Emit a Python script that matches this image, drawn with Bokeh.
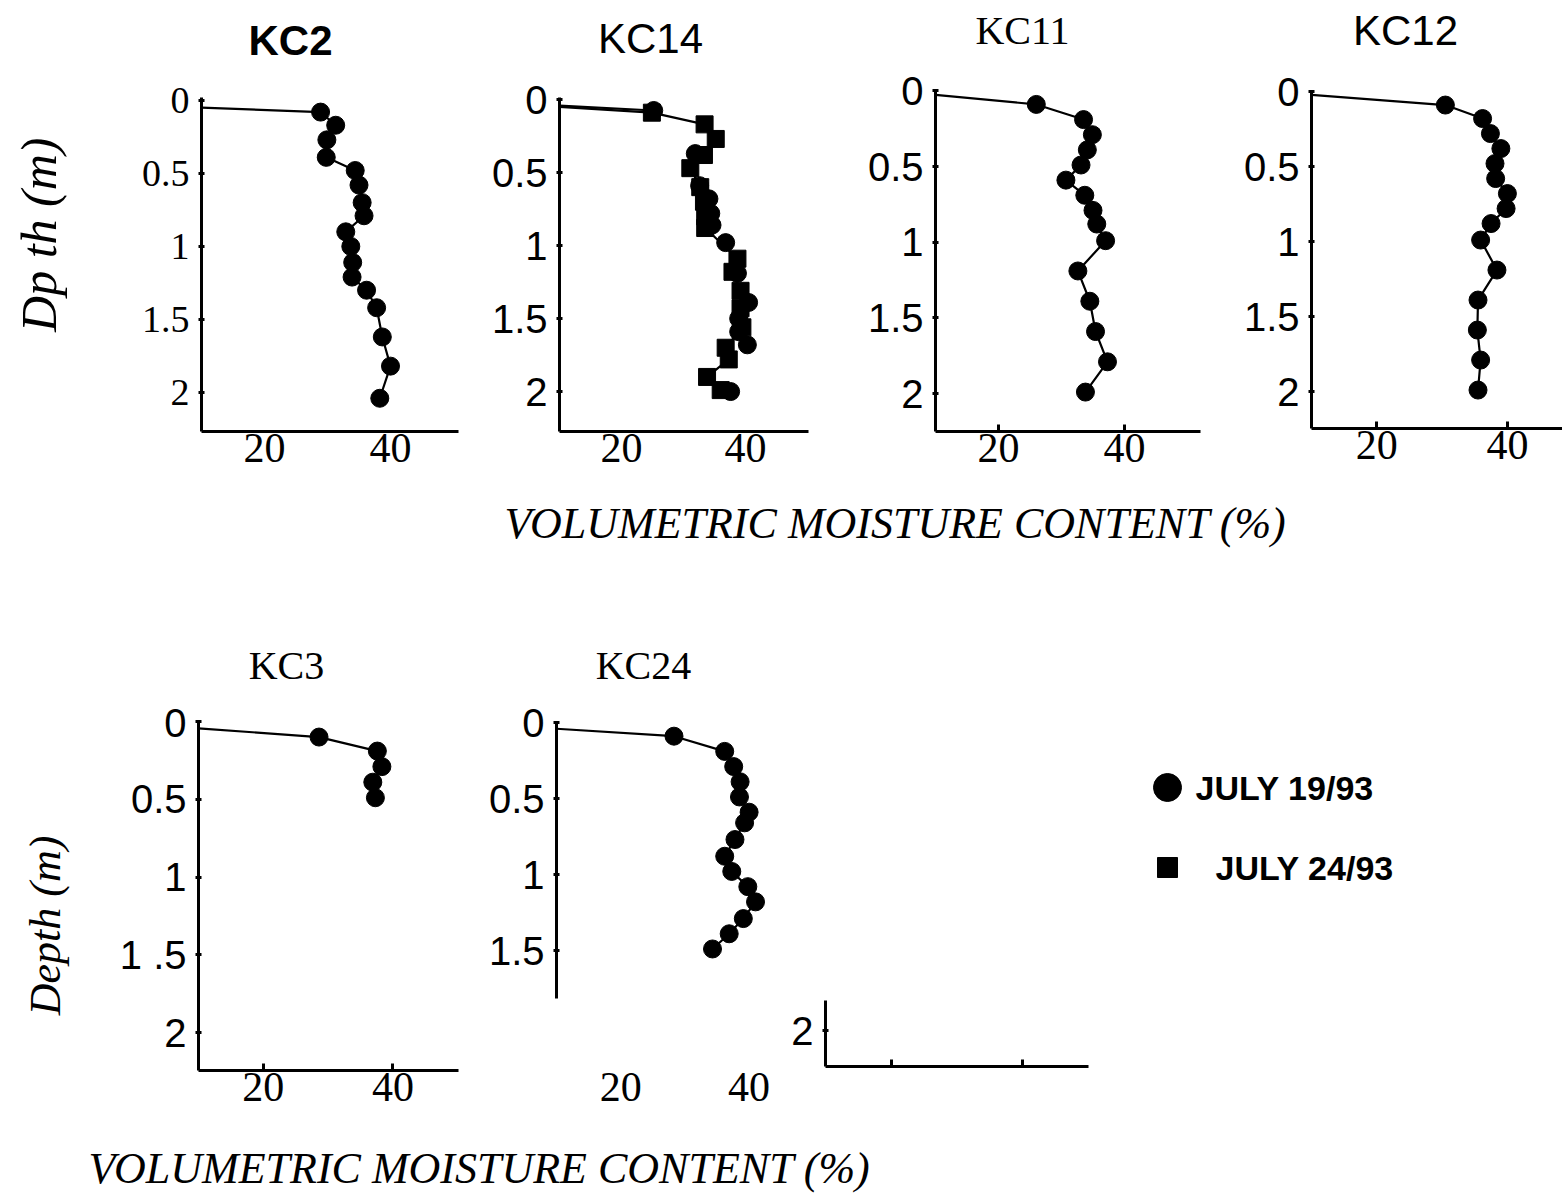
import math

from bokeh.core.properties import value
from bokeh.embed import file_html
from bokeh.layouts import column, row
from bokeh.models import FixedTicker, Label, Range1d, Spacer
from bokeh.plotting import figure
from bokeh.resources import INLINE

SANS = "Liberation Sans"
SERIF = "Liberation Serif"
INK = "black"

X_MIN = 10  # moisture axes start at 10 %

# ---------------------------------------------------------------------------
# Volumetric moisture content (%) against depth (m)
# ---------------------------------------------------------------------------
kc2_depth = [0.08, 0.17, 0.27, 0.39, 0.48, 0.58, 0.70, 0.79, 0.90, 1.00, 1.11,
             1.21, 1.30, 1.42, 1.62, 1.82, 2.04]
kc2_jul19 = [28.9, 31.3, 29.9, 29.8, 34.4, 35.0, 35.5, 35.8, 32.9, 33.7, 34.0,
             33.9, 36.2, 37.8, 38.7, 40.0, 38.3]
kc2_surface = 0.05

kc14_depth_jul19 = [0.075, 0.37, 0.59, 0.68, 0.78, 0.86, 0.98, 1.19, 1.39, 1.50,
                    1.59, 1.68, 2.00]
kc14_jul19 = [25.2, 31.9, 32.6, 34.1, 34.4, 34.6, 36.8, 38.7, 40.5, 38.9,
              38.9, 40.3, 37.6]
kc14_depth_jul24 = [0.09, 0.17, 0.27, 0.38, 0.47, 0.60, 0.70, 0.80, 0.88, 1.09,
                    1.18, 1.31, 1.43, 1.56, 1.70, 1.78, 1.90, 1.99]
kc14_jul24 = [24.9, 33.4, 35.2, 33.3, 31.1, 32.7, 33.3, 33.5, 33.5, 38.7,
              37.9, 39.2, 39.2, 39.5, 36.8, 37.3, 33.8, 36.0]
kc14_surface = [0.042, 0.05]

kc11_depth = [0.09, 0.19, 0.29, 0.39, 0.49, 0.59, 0.69, 0.79, 0.88, 0.99, 1.19,
              1.39, 1.59, 1.79, 1.99]
kc11_jul19 = [26.0, 33.5, 34.9, 34.1, 33.1, 30.7, 33.7, 35.0, 35.6, 37.0, 32.6,
              34.5, 35.4, 37.3, 33.8]
kc11_surface = 0.027

kc12_depth = [0.09, 0.18, 0.28, 0.38, 0.48, 0.58, 0.68, 0.78, 0.88, 0.99, 1.19,
              1.39, 1.59, 1.79, 1.99]
kc12_jul19 = [30.5, 36.2, 37.4, 39.0, 38.1, 38.2, 40.0, 39.8, 37.5, 35.9, 38.4,
              35.5, 35.4, 35.9, 35.5]
kc12_surface = 0.022

kc3_depth = [0.10, 0.19, 0.29, 0.39, 0.49]
kc3_jul19 = [28.6, 37.6, 38.3, 36.9, 37.3]
kc3_surface = 0.044

kc24_depth = [0.09, 0.19, 0.29, 0.39, 0.49, 0.59, 0.66, 0.77, 0.88, 0.98, 1.08,
              1.18, 1.29, 1.39, 1.49]
kc24_jul19 = [28.3, 36.2, 37.6, 38.6, 38.5, 40.0, 39.3, 37.8, 36.2, 37.3, 39.8,
              41.0, 39.1, 36.9, 34.3]
kc24_surface = 0.041

depth_ticks = [0, 0.5, 1, 1.5, 2]
moisture_ticks = [20, 40]

legend_labels = ["JULY 19/93", "JULY 24/93"]
legend_markers = ["circle", "square"]

x_title = "VOLUMETRIC MOISTURE CONTENT (%)"


# ---------------------------------------------------------------------------
# Building blocks
# ---------------------------------------------------------------------------
def bare(p):
    p.xgrid.visible = False
    p.ygrid.visible = False
    p.outline_line_color = None
    p.background_fill_color = "white"
    p.border_fill_color = "white"
    return p


def panel(frame, outer, px_per_pct, px_per_m, depth_top):
    """Figure whose plotting frame and outer box are given in page pixels."""
    left, right, top, bottom = frame
    ox0, ox1, oy0, oy1 = outer
    p = figure(
        title=None, frame_align=False,
        frame_width=right - left, frame_height=bottom - top,
        min_border_left=left - ox0, min_border_right=ox1 - right,
        min_border_top=top - oy0, min_border_bottom=oy1 - bottom,
        x_range=Range1d(X_MIN, X_MIN + (right - left) / px_per_pct),
        y_range=Range1d(depth_top + (bottom - top) / px_per_m, depth_top),
        output_backend="svg", toolbar_location=None,
    )
    return bare(p)


def strip(x0, y0, x1, y1):
    """Blank area (page pixels) whose data units equal pixels."""
    w, h = x1 - x0, y1 - y0
    p = figure(title=None, frame_align=False, width=w, height=h, min_border=0,
               x_range=Range1d(x0, x1), y_range=Range1d(y1, y0),
               x_axis_type=None, y_axis_type=None,
               output_backend="svg", toolbar_location=None)
    return bare(p)


def caption(p, text, cx, cy, font=SERIF, size="44px", style="italic", angle=0.0):
    p.add_layout(Label(x=cx, y=cy, text=text, angle=angle,
                       text_align="center", text_baseline="middle",
                       text_font=font, text_font_size=size,
                       text_font_style=style, text_color=INK))


def style_depth_axis(p, ticks, font, labels=None):
    ya = p.yaxis[0]
    ya.ticker = FixedTicker(ticks=ticks)
    if labels:
        ya.major_label_overrides = dict(zip(ticks, labels))
    ya.axis_line_width = 3
    ya.axis_line_color = INK
    ya.major_tick_in = 3
    ya.major_tick_out = 3
    ya.major_tick_line_width = 3
    ya.major_tick_line_color = INK
    ya.minor_tick_line_color = None
    ya.major_label_text_font = font
    ya.major_label_text_font_size = "40px" if font == SANS else "38px"
    ya.major_label_text_color = INK
    ya.major_label_standoff = 9


def style_moisture_axis(p, ticks_in=True, line=True, labels=True, standoff=2):
    xa = p.xaxis[0]
    xa.ticker = FixedTicker(ticks=moisture_ticks)
    xa.axis_line_width = 3
    xa.axis_line_color = INK if line else None
    xa.major_tick_in = 7 if ticks_in else 0
    xa.major_tick_out = 0
    xa.major_tick_line_width = 3
    xa.major_tick_line_color = INK if ticks_in else None
    xa.minor_tick_line_color = None
    xa.major_label_text_font = SERIF
    xa.major_label_text_font_size = "42px"
    xa.major_label_text_color = INK
    xa.major_label_standoff = standoff
    if not labels:
        xa.major_label_overrides = {t: "" for t in moisture_ticks}


def profile(p, moisture, depth, surface, marker="circle", size=18, line=True):
    if line:
        p.line([X_MIN] + moisture, [surface] + depth, line_width=2.2, color=INK)
    p.scatter(moisture, depth, marker=marker, size=size, color=INK)


UP = math.pi / 2

# ---------------------------------------------------------------------------
# Station names of the upper row
# ---------------------------------------------------------------------------
names_top = strip(0, 0, 1562, 70)
caption(names_top, "KC2", 290, 40, SANS, "42px", "bold")
caption(names_top, "KC14", 650, 38, SANS, "42px", "normal")
caption(names_top, "KC11", 1022, 30, SERIF, "40px", "normal")
caption(names_top, "KC12", 1405, 30, SANS, "42px", "normal")

# ---------------------------------------------------------------------------
# Upper row: KC2, KC14, KC11, KC12
# ---------------------------------------------------------------------------
side_top = strip(0, 70, 80, 480)
caption(side_top, "Dp th  (m)", 38, 228, size="50px", angle=UP)

f_kc2 = panel((201, 458, 97, 431), (80, 482, 70, 480), 6.3, 146, -0.02)
style_depth_axis(f_kc2, depth_ticks, SERIF)
style_moisture_axis(f_kc2, ticks_in=False)
profile(f_kc2, kc2_jul19, kc2_depth, kc2_surface)

f_kc14 = panel((559, 808, 97, 431), (482, 860, 70, 480), 6.2, 146, -0.014)
style_depth_axis(f_kc14, depth_ticks, SANS)
style_moisture_axis(f_kc14, ticks_in=False)
profile(f_kc14, kc14_jul24, kc14_depth_jul24, kc14_surface[1], marker="square", size=17)
f_kc14.line([X_MIN, kc14_jul19[0]], [kc14_surface[0], kc14_depth_jul19[0]],
            line_width=2.2, color=INK)
profile(f_kc14, kc14_jul19, kc14_depth_jul19, kc14_surface[0], line=False)

f_kc11 = panel((935, 1200, 90, 431), (860, 1235, 70, 480), 6.3, 151.4, -0.002)
style_depth_axis(f_kc11, depth_ticks, SANS)
style_moisture_axis(f_kc11)
profile(f_kc11, kc11_jul19, kc11_depth, kc11_surface)

f_kc12 = panel((1311, 1562, 90, 428), (1235, 1562, 70, 480), 6.53, 150, -0.007)
style_depth_axis(f_kc12, depth_ticks, SANS)
style_moisture_axis(f_kc12)
profile(f_kc12, kc12_jul19, kc12_depth, kc12_surface)

top_row = row(side_top, f_kc2, f_kc14, f_kc11, f_kc12)

# ---------------------------------------------------------------------------
# Caption of the upper row and station names of the lower row
# ---------------------------------------------------------------------------
middle = strip(0, 480, 1562, 700)
caption(middle, x_title, 895, 523)
caption(middle, "KC3", 286, 665, SERIF, "40px", "normal")
caption(middle, "KC24", 643, 665, SERIF, "40px", "normal")

# ---------------------------------------------------------------------------
# Lower row: KC3, KC24, displaced axis corner, legend
# ---------------------------------------------------------------------------
side_bottom = strip(0, 700, 80, 1130)
caption(side_bottom, "Depth (m)", 45, 925, angle=UP)

f_kc3 = panel((198, 458, 721, 1070), (80, 480, 700, 1130), 6.48, 155.6, 0.0)
style_depth_axis(f_kc3, depth_ticks, SANS, labels=["0", "0.5", "1", "1 .5", "2"])
style_moisture_axis(f_kc3)
profile(f_kc3, kc3_jul19, kc3_depth, kc3_surface)

f_kc24 = panel((556, 770, 722, 998), (480, 780, 700, 1130), 6.42, 152, 0.0)
style_depth_axis(f_kc24, depth_ticks[:4], SANS)
style_moisture_axis(f_kc24, ticks_in=False, line=False, standoff=74)
profile(f_kc24, kc24_jul19, kc24_depth, kc24_surface)

f_corner = panel((825, 1088, 1000, 1066), (780, 1100, 980, 1130), 6.55, 152,
                 2 - 30 / 152)
style_depth_axis(f_corner, depth_ticks[4:], SANS)
style_moisture_axis(f_corner, labels=False)
corner = column(Spacer(width=320, height=280), f_corner)

f_legend = strip(1100, 700, 1562, 1130)
key_y = [787 + 80 * i for i in range(len(legend_labels))]
key_size = [28, 20]
label_x = [1195, 1215]
f_legend.scatter(x=[1167] * len(legend_labels), y=key_y, marker=legend_markers,
                 size=key_size, color=INK)
f_legend.text(x=label_x, y=key_y, text=legend_labels,
              text_font=value(SANS), text_font_size=value("34px"),
              text_font_style="bold", text_baseline="middle", text_color=INK)

bottom_row = row(side_bottom, f_kc3, f_kc24, corner, f_legend)

bottom_caption = strip(0, 1130, 1562, 1193)
caption(bottom_caption, x_title, 479, 1168)

page = column(names_top, top_row, middle, bottom_row, bottom_caption)

open("out.html", "w").write(file_html(page, INLINE))
